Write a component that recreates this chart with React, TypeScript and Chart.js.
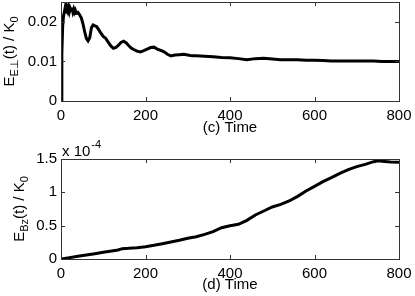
import React, { useEffect, useRef } from 'react';
import { Chart, registerables } from 'chart.js';

Chart.register(...registerables);

// ---- Panel (c): E_E⊥(t)/K0 vs time ----
const timeC = [0, 2, 4, 6, 8, 10, 12, 14, 16, 18, 20, 22, 24, 26, 28, 30, 32, 34, 36, 40, 44, 48, 52, 56, 60, 64, 68, 72, 76, 80, 84, 88, 94, 100, 106, 112, 118, 124, 130, 136, 142, 148, 154, 160, 166, 172, 180, 188, 196, 204, 212, 220, 228, 236, 244, 252, 260, 270, 280, 290, 300, 310, 320, 340, 360, 380, 400, 420, 440, 460, 480, 500, 520, 540, 560, 580, 600, 620, 640, 660, 680, 700, 720, 740, 760, 780, 800];
const eperpC = [0, 0.012, 0.019, 0.0215, 0.0225, 0.0236, 0.0224, 0.0235, 0.0228, 0.0238, 0.0226, 0.0234, 0.0229, 0.0236, 0.0225, 0.0232, 0.0224, 0.0229, 0.0222, 0.0224, 0.0218, 0.021, 0.0195, 0.0175, 0.0158, 0.0152, 0.016, 0.0185, 0.0192, 0.019, 0.0188, 0.0182, 0.0172, 0.0163, 0.0158, 0.0148, 0.0139, 0.0133, 0.0135, 0.0141, 0.0148, 0.0151, 0.0147, 0.014, 0.0134, 0.013, 0.0126, 0.0124, 0.0127, 0.0131, 0.0135, 0.0136, 0.0131, 0.0128, 0.0124, 0.0118, 0.0114, 0.0116, 0.0117, 0.0118, 0.0116, 0.0114, 0.0114, 0.0113, 0.0112, 0.011, 0.0109, 0.0107, 0.0104, 0.0107, 0.0108, 0.0106, 0.0104, 0.0104, 0.0104, 0.0103, 0.0103, 0.0102, 0.0101, 0.0101, 0.0101, 0.0101, 0.0101, 0.0101, 0.01, 0.01, 0.01];

// ---- Panel (d): E_Bz(t)/K0 vs time, in units of 1e-4 ----
const timeD = [0, 20, 40, 60, 80, 100, 120, 135, 145, 160, 180, 200, 220, 240, 260, 280, 300, 320, 340, 360, 380, 400, 420, 440, 460, 480, 500, 520, 540, 560, 580, 600, 620, 640, 660, 680, 700, 720, 740, 750, 760, 780, 800];
const ebzD = [0, 0.02, 0.04, 0.06, 0.08, 0.1, 0.12, 0.135, 0.155, 0.16, 0.17, 0.185, 0.205, 0.23, 0.255, 0.28, 0.31, 0.335, 0.37, 0.41, 0.47, 0.5, 0.52, 0.58, 0.66, 0.72, 0.78, 0.82, 0.87, 0.94, 1.02, 1.09, 1.16, 1.22, 1.285, 1.34, 1.385, 1.42, 1.46, 1.475, 1.465, 1.455, 1.45];

const xTicks = [0, 200, 400, 600, 800];
const yTicksC = [0, 0.01, 0.02];
const yTickLabelsC = ['0', '0.01', '0.02'];
const yTicksD = [0, 0.5, 1, 1.5];
const yTickLabelsD = ['0', '0.5', '1', '1.5'];

const FONT = '"Liberation Sans", Arial, Helvetica, sans-serif';
const TICK_SIZE = 15;

type Seg = { t: string; size: number; dy: number };

function makeDecor(cfg: {
  ySegs: Seg[];
  yLabelX: number;
  xTitle: string;
  xTitleY: number;
  exponent?: { x: number; y: number };
}) {
  return {
    id: 'decor',
    afterDraw(chart: any) {
      const { ctx, chartArea: a } = chart;
      const xs = chart.scales.x;
      const ys = chart.scales.y;
      ctx.save();
      ctx.strokeStyle = '#333';
      ctx.lineWidth = 1;
      ctx.strokeRect(a.left + 0.5, a.top + 0.5, a.right - a.left, a.bottom - a.top);
      ctx.beginPath();
      const L = 4;
      xs.ticks.forEach((t: any) => {
        const px = Math.round(xs.getPixelForValue(t.value)) + 0.5;
        ctx.moveTo(px, a.bottom);
        ctx.lineTo(px, a.bottom - L);
        ctx.moveTo(px, a.top);
        ctx.lineTo(px, a.top + L);
      });
      ys.ticks.forEach((t: any) => {
        const py = Math.round(ys.getPixelForValue(t.value)) + 0.5;
        ctx.moveTo(a.left, py);
        ctx.lineTo(a.left + L, py);
        ctx.moveTo(a.right, py);
        ctx.lineTo(a.right - L, py);
      });
      ctx.stroke();

      ctx.fillStyle = '#000';
      ctx.font = `${TICK_SIZE}px ${FONT}`;
      ctx.textAlign = 'center';
      ctx.textBaseline = 'middle';
      ctx.fillText(cfg.xTitle, (a.left + a.right) / 2, cfg.xTitleY);

      ctx.save();
      const cy = (a.top + a.bottom) / 2;
      ctx.translate(cfg.yLabelX, cy);
      ctx.rotate(-Math.PI / 2);
      ctx.textAlign = 'left';
      ctx.textBaseline = 'alphabetic';
      let total = 0;
      const widths = cfg.ySegs.map((s) => {
        ctx.font = `${s.size}px ${FONT}`;
        const w = ctx.measureText(s.t).width;
        total += w;
        return w;
      });
      let cur = -total / 2;
      cfg.ySegs.forEach((s, i) => {
        ctx.font = `${s.size}px ${FONT}`;
        ctx.fillText(s.t, cur, s.dy);
        cur += widths[i];
      });
      ctx.restore();

      if (cfg.exponent) {
        ctx.textAlign = 'left';
        ctx.textBaseline = 'alphabetic';
        ctx.font = `${TICK_SIZE}px ${FONT}`;
        const base = 'x 10';
        ctx.fillText(base, cfg.exponent.x, cfg.exponent.y);
        const w = ctx.measureText(base).width;
        ctx.font = `11px ${FONT}`;
        ctx.fillText('-4', cfg.exponent.x + w + 1, cfg.exponent.y - 8);
      }
      ctx.restore();
    },
  };
}

function makeConfig(opts: {
  xs: number[];
  ys: number[];
  yMax: number;
  yTicks: number[];
  yTickLabels: string[];
  padTop: number;
  xAxisHeight: number;
  plugin: any;
}) {
  const data = opts.xs.map((x, i) => ({ x, y: opts.ys[i] }));
  return {
    type: 'line' as const,
    data: {
      datasets: [
        {
          data,
          borderColor: '#000',
          borderWidth: 3,
          pointRadius: 0,
          tension: 0,
          fill: false,
        },
      ],
    },
    options: {
      responsive: false,
      animation: false as const,
      layout: { padding: { top: opts.padTop, right: 16, left: 0, bottom: 0 } },
      plugins: { legend: { display: false }, tooltip: { enabled: false } },
      scales: {
        x: {
          type: 'linear' as const,
          min: 0,
          max: 800,
          bounds: 'data' as const,
          grid: { display: false, drawTicks: false },
          border: { display: false },
          ticks: {
            color: '#000',
            font: { family: FONT, size: TICK_SIZE },
            padding: 6,
            maxRotation: 0,
            autoSkip: false,
            callback: (v: number) => String(v),
          },
          afterBuildTicks: (s: any) => {
            s.ticks = xTicks.map((v) => ({ value: v }));
          },
          afterFit: (s: any) => {
            s.height = opts.xAxisHeight;
            s.paddingLeft = 0;
            s.paddingRight = 0;
            s.paddingTop = 0;
            s.paddingBottom = 0;
          },
        },
        y: {
          type: 'linear' as const,
          min: 0,
          max: opts.yMax,
          bounds: 'data' as const,
          grid: { display: false, drawTicks: false },
          border: { display: false },
          ticks: {
            color: '#000',
            font: { family: FONT, size: TICK_SIZE },
            padding: 4,
            autoSkip: false,
            callback: (v: number) => {
              const i = opts.yTicks.findIndex((t) => Math.abs(t - v) < 1e-9);
              return i >= 0 ? opts.yTickLabels[i] : '';
            },
          },
          afterBuildTicks: (s: any) => {
            s.ticks = opts.yTicks.map((v) => ({ value: v }));
          },
          afterFit: (s: any) => {
            s.width = 61;
            s.paddingLeft = 0;
            s.paddingRight = 0;
            s.paddingTop = 0;
            s.paddingBottom = 0;
          },
        },
      },
    },
    plugins: [opts.plugin],
  };
}

export default function App() {
  const refC = useRef<HTMLCanvasElement>(null);
  const refD = useRef<HTMLCanvasElement>(null);

  useEffect(() => {
    const chartC = new Chart(
      refC.current as HTMLCanvasElement,
      makeConfig({
        xs: timeC,
        ys: eperpC,
        yMax: 0.025,
        yTicks: yTicksC,
        yTickLabels: yTickLabelsC,
        padTop: 2,
        xAxisHeight: 37,
        plugin: makeDecor({
          ySegs: [
            { t: 'E', size: 15, dy: 0 },
            { t: 'E⊥', size: 11, dy: 4 },
            { t: '(t) / K', size: 15, dy: 0 },
            { t: '0', size: 11, dy: 4 },
          ],
          yLabelX: 14,
          xTitle: '(c) Time',
          xTitleY: 128,
        }),
      }) as any
    );
    const chartD = new Chart(
      refD.current as HTMLCanvasElement,
      makeConfig({
        xs: timeD,
        ys: ebzD,
        yMax: 1.5,
        yTicks: yTicksD,
        yTickLabels: yTickLabelsD,
        padTop: 21,
        xAxisHeight: 37,
        plugin: makeDecor({
          ySegs: [
            { t: 'E', size: 15, dy: 0 },
            { t: 'Bz', size: 11, dy: 4 },
            { t: '(t) / K', size: 15, dy: 0 },
            { t: '0', size: 11, dy: 4 },
          ],
          yLabelX: 24,
          xTitle: '(d) Time',
          xTitleY: 147,
          exponent: { x: 62, y: 18 },
        }),
      }) as any
    );
    return () => {
      chartC.destroy();
      chartD.destroy();
    };
  }, []);

  return (
    <div style={{ position: 'absolute', left: 0, top: 0, width: 415, height: 296, background: '#fff' }}>
      <canvas ref={refC} width={415} height={138} style={{ display: 'block' }} />
      <canvas ref={refD} width={415} height={158} style={{ display: 'block' }} />
    </div>
  );
}
